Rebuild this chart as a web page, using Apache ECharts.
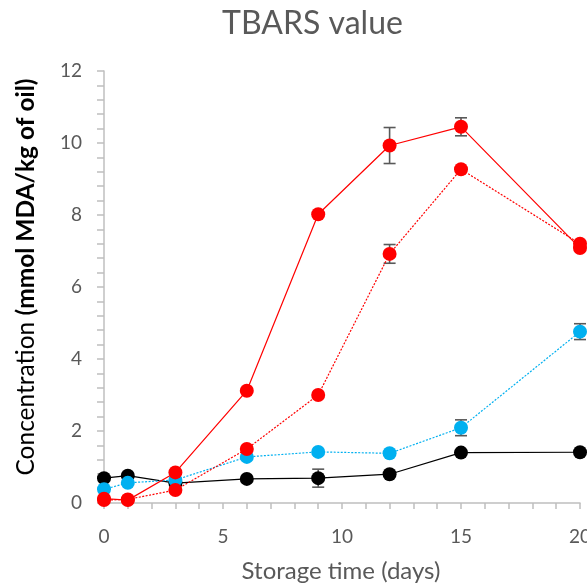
<!DOCTYPE html>
<html>
<head>
<meta charset="utf-8">
<script src="https://cdn.jsdelivr.net/npm/echarts@6/dist/echarts.min.js"></script>
<style>
  html, body { margin: 0; padding: 0; background: #fff; }
  #chart { width: 587px; height: 587px; }
</style>
</head>
<body>
<div id="chart"></div>
<script>
// Storage days and TBARS readings (mmol MDA/kg of oil)
var days = [0, 1, 3, 6, 9, 12, 15, 20];

var redSolid     = [0.12, 0.08, 0.85, 3.12, 8.02, 9.93, 10.45, 7.08];
var redSolidErr  = [0, 0, 0, 0, 0, 0.5, 0.25, 0];

var redDotted    = [0.08, 0.10, 0.36, 1.50, 3.00, 6.92, 9.27, 7.20];
var redDottedErr = [0, 0, 0, 0, 0, 0.26, 0, 0];

var cyan         = [0.38, 0.56, 0.64, 1.28, 1.42, 1.38, 2.09, 4.76];
var cyanErr      = [0, 0, 0, 0, 0, 0, 0.22, 0.22];

var black        = [0.69, 0.76, 0.55, 0.67, 0.69, 0.80, 1.40, 1.41];
var blackErr     = [0, 0, 0, 0, 0.25, 0, 0, 0];

var yTicks = [0, 2, 4, 6, 8, 10, 12];
var xTicks = [0, 5, 10, 15, 20];

var FONT = 'Lato';
var TEXT = '#595959';
var AXIS = '#BFBFBF';

function pairs(vals) {
  return days.map(function (d, i) { return [d, vals[i]]; });
}
function errData(vals, errs) {
  var out = [];
  days.forEach(function (d, i) {
    if (errs[i] > 0) out.push([d, vals[i] - errs[i], vals[i] + errs[i]]);
  });
  return out;
}

function errorBarSeries(vals, errs) {
  return {
    type: 'custom',
    z: 1,
    silent: true,
    data: errData(vals, errs),
    renderItem: function (params, api) {
      var x = api.value(0);
      var lo = api.coord([x, api.value(1)]);
      var hi = api.coord([x, api.value(2)]);
      var w = 6;
      var st = { stroke: '#595959', lineWidth: 1.6 };
      return {
        type: 'group',
        children: [
          { type: 'line', shape: { x1: lo[0], y1: lo[1], x2: hi[0], y2: hi[1] }, style: st },
          { type: 'line', shape: { x1: lo[0] - w, y1: lo[1], x2: lo[0] + w, y2: lo[1] }, style: st },
          { type: 'line', shape: { x1: hi[0] - w, y1: hi[1], x2: hi[0] + w, y2: hi[1] }, style: st }
        ]
      };
    }
  };
}

function lineSeries(vals, color, dashed, z) {
  return {
    type: 'line',
    data: pairs(vals),
    z: z,
    symbol: 'circle',
    symbolSize: 14,
    showAllSymbol: true,
    clip: false,
    itemStyle: { color: color },
    lineStyle: { color: color, width: 1.2, type: dashed ? [2, 1.5] : 'solid' },
    emphasis: { disabled: true },
    animation: false
  };
}

var chart = echarts.init(document.getElementById('chart'), null, { renderer: 'canvas' });

chart.setOption({
  animation: false,
  backgroundColor: '#ffffff',
  title: {
    text: 'TBARS value',
    left: 217,
    top: 3,
    textStyle: { fontFamily: FONT, fontSize: 32, fontWeight: 'normal', color: TEXT }
  },
  grid: {
    left: 104, right: 7, top: 71, bottom: 84,
    containLabel: false,
    outerBoundsMode: 'none'
  },
  xAxis: {
    type: 'value',
    min: 0, max: 20, interval: 5,
    axisLine: { show: true, lineStyle: { color: AXIS, width: 1.5 } },
    axisTick: { show: true, inside: false, length: 6, lineStyle: { color: AXIS, width: 1.5 } },
    minorTick: { show: true, splitNumber: 5, length: 6, lineStyle: { color: AXIS, width: 1.5 } },
    splitLine: { show: false },
    axisLabel: {
      margin: 24,
      hideOverlap: false,
      fontFamily: FONT, fontSize: 19, color: TEXT,
      formatter: function (v) { return xTicks.indexOf(v) >= 0 ? String(v) : ''; }
    }
  },
  yAxis: {
    type: 'value',
    min: 0, max: 12, interval: 2,
    axisLine: { show: true, lineStyle: { color: AXIS, width: 1.5 } },
    axisTick: { show: true, inside: false, length: 7, lineStyle: { color: AXIS, width: 1.5 } },
    minorTick: { show: true, splitNumber: 5, length: 7, lineStyle: { color: AXIS, width: 1.5 } },
    splitLine: { show: false },
    axisLabel: {
      margin: 22,
      fontFamily: FONT, fontSize: 19, color: TEXT,
      formatter: function (v) { return yTicks.indexOf(v) >= 0 ? String(v) : ''; }
    }
  },
  graphic: [
    {
      type: 'text',
      x: 26, y: 277,
      rotation: Math.PI / 2,
      style: {
        text: '{r|Concentration }{b|(mmol MDA/kg of oil)}',
        align: 'center',
        verticalAlign: 'middle',
        rich: {
          r: { fontFamily: FONT, fontSize: 24.5, color: TEXT },
          b: { fontFamily: FONT, fontSize: 24.5, fontWeight: 'bold', color: TEXT }
        }
      }
    },
    {
      type: 'text',
      x: 341, y: 571,
      style: {
        text: 'Storage time (days)',
        align: 'center',
        verticalAlign: 'middle',
        fontFamily: FONT, fontSize: 24, fill: TEXT
      }
    }
  ],
  series: [
    errorBarSeries(black, blackErr),
    errorBarSeries(cyan, cyanErr),
    errorBarSeries(redDotted, redDottedErr),
    errorBarSeries(redSolid, redSolidErr),
    lineSeries(black, '#000000', false, 2),
    lineSeries(cyan, '#00B0F0', true, 3),
    lineSeries(redDotted, '#FF0000', true, 4),
    lineSeries(redSolid, '#FF0000', false, 5)
  ]
});
</script>
</body>
</html>
